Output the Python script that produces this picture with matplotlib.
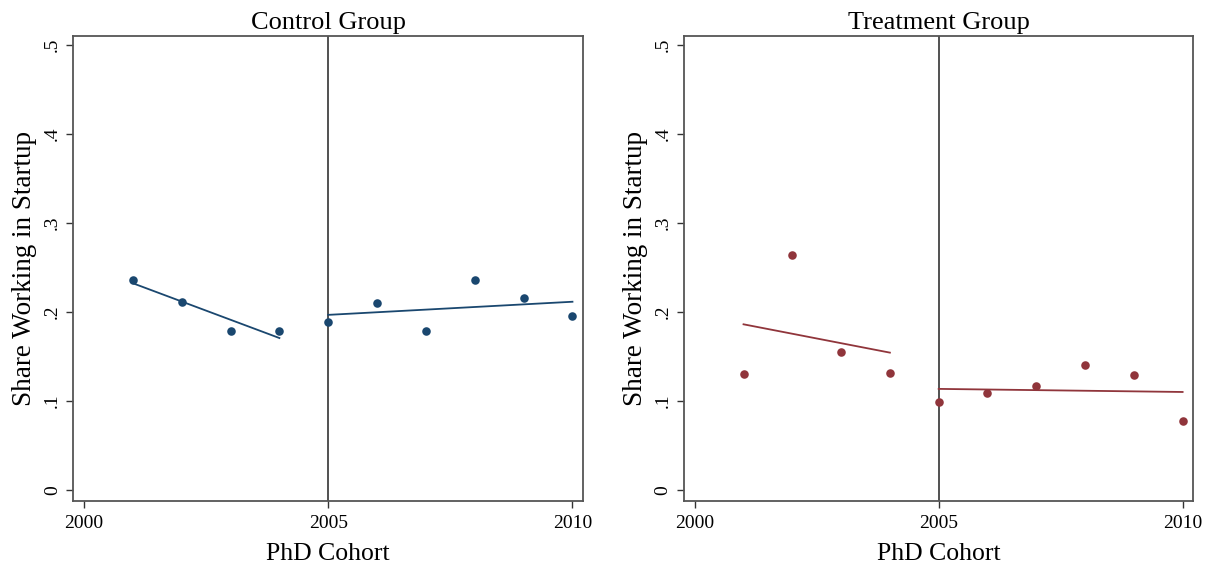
import numpy as np
import matplotlib
matplotlib.use("Agg")
import matplotlib.pyplot as plt

plt.rcParams['font.family'] = ['Liberation Serif', 'DejaVu Serif']

# share of PhDs working in a startup, by cohort
cohorts = [2001, 2002, 2003, 2004, 2005, 2006, 2007, 2008, 2009, 2010]
control_share = [0.2365, 0.2117, 0.179, 0.179, 0.1888, 0.2104, 0.179, 0.2365, 0.2153, 0.195]
treatment_share = [0.1309, 0.2635, 0.155, 0.1317, 0.0987, 0.1089, 0.117, 0.1407, 0.1289, 0.0771]
cutoff = 2005

y_ticks = [0, 0.1, 0.2, 0.3, 0.4, 0.5]
y_ticklabels = ['0', '.1', '.2', '.3', '.4', '.5']
x_ticks = [2000, 2005, 2010]

fig = plt.figure(figsize=(12.13, 5.68), dpi=100)
ax_c = fig.add_axes([0.0604, 0.1185, 0.4204, 0.8187])
ax_t = fig.add_axes([0.5639, 0.1185, 0.4199, 0.8187])

panels = [(ax_c, control_share, '#1a476f', 'Control Group'),
          (ax_t, treatment_share, '#90353b', 'Treatment Group')]

x = np.array(cohorts)
for ax, share, col, title in panels:
    y = np.array(share)
    ax.scatter(x, y, s=38, color=col, zorder=3, linewidths=0)

    # separate linear fits before and after the cutoff
    for mask in (x < cutoff, x >= cutoff):
        b, a = np.polyfit(x[mask], y[mask], 1)
        xs = np.array([x[mask].min(), x[mask].max()])
        ax.plot(xs, a + b * xs, color=col, lw=1.3, zorder=2)

    ax.axvline(cutoff, color='#222222', lw=1.1, zorder=1)

    ax.set_xlim(1999.78, 2010.22)
    ax.set_ylim(-0.012, 0.5105)
    ax.set_xticks(x_ticks)
    ax.set_yticks(y_ticks)
    ax.set_yticklabels(y_ticklabels, rotation=90, va='center')
    ax.tick_params(axis='both', direction='out', length=5, width=1,
                   color='#333333', labelsize=14)
    ax.tick_params(axis='x', pad=5)
    ax.tick_params(axis='y', pad=4)
    for sp in ax.spines.values():
        sp.set_color('#555555')
        sp.set_linewidth(1.3)

    ax.set_title(title, fontsize=19, pad=5)
    ax.set_xlabel('PhD Cohort', fontsize=18.5, labelpad=8)
    ax.set_ylabel('Share Working in Startup', fontsize=19.5, labelpad=5)

fig.savefig('out.png', dpi=100)
